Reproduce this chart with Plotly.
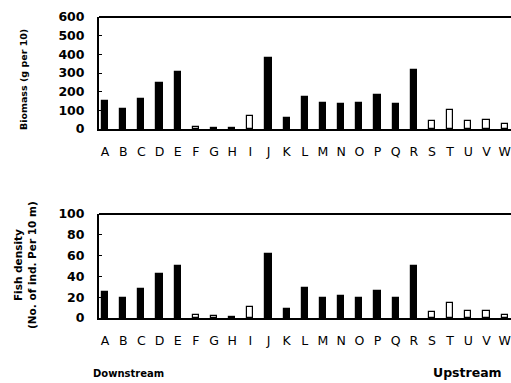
import plotly.graph_objects as go

sites = list("ABCDEFGHIJKLMNOPQRSTUVW")
biomass = [152, 106, 159, 249, 306, 10, 8, 6, 70, 380, 57, 172, 141, 133, 138, 183, 133, 315, 45, 102, 41, 48, 27]
density = [25, 19, 28, 42, 50, 3, 1.5, 1, 11, 62, 9, 29, 19, 21, 19.5, 26, 19, 50, 6, 14, 7, 7, 3]
filled = [True]*5 + [False]*4 + [True]*9 + [False]*5
biomass_ticks = [0, 100, 200, 300, 400, 500, 600]
density_ticks = [0, 20, 40, 60, 80, 100]

W, H = 511, 383
fill_colors = ["black" if f else "white" for f in filled]

fig = go.Figure()
for vals, ax in [(biomass, "y"), (density, "y2")]:
    fig.add_trace(go.Bar(
        x=sites, y=vals, yaxis=ax, xaxis="x" if ax == "y" else "x2",
        marker=dict(color=fill_colors, line=dict(color="black", width=1.2)),
        width=0.34, showlegend=False, hoverinfo="skip"))

def py(p):
    return 1 - p / H

FAM = "DejaVu Sans"
xr = [-0.33, 22.35]
xdom = [99 / W, 1.0]
font_num = dict(family=FAM, size=12.5, color="black", weight="bold")
font_let = dict(family=FAM, size=12.5, color="black")
common_x = dict(domain=xdom, range=xr, showline=True, linecolor="black", linewidth=2,
                ticks="", tickfont=font_let, ticklabelstandoff=10, showgrid=False, zeroline=False,
                automargin=False)
common_y = dict(showline=True, linecolor="black", linewidth=2, ticks="inside", ticklen=3,
                tickcolor="black", tickfont=font_num, showgrid=False, zeroline=False,
                ticklabelstandoff=10, automargin=False)

fig.update_layout(
    width=W, height=H, margin=dict(l=0, r=0, t=0, b=0),
    plot_bgcolor="white", paper_bgcolor="white", bargap=0,
    xaxis=dict(**common_x, anchor="y"),
    xaxis2=dict(**common_x, anchor="y2"),
    yaxis=dict(**common_y, domain=[py(129), py(17)], range=[0, 600], tickvals=biomass_ticks, anchor="x"),
    yaxis2=dict(**common_y, domain=[py(318), py(214)], range=[0, 100], tickvals=density_ticks, anchor="x2"),
)

# top frame lines
for yp in [17, 214]:
    fig.add_shape(type="line", xref="paper", yref="paper", x0=99 / W, x1=1.0, y0=py(yp), y1=py(yp),
                  line=dict(color="black", width=2))

lab = dict(family=FAM, color="black", weight="bold")
fig.add_annotation(text="Biomass (g per 10)", x=24 / W, y=py(80), xref="paper", yref="paper",
                   textangle=-90, showarrow=False, xanchor="center", yanchor="middle",
                   font=dict(**lab, size=9.5))
fig.add_annotation(text="Fish density<br>(No. of ind. Per 10 m)", x=25 / W, y=py(265), xref="paper", yref="paper",
                   textangle=-90, showarrow=False, xanchor="center", yanchor="middle",
                   font=dict(**lab, size=10.5))
fig.add_annotation(text="Downstream", x=128 / W, y=py(373), xref="paper", yref="paper", showarrow=False,
                   xanchor="center", yanchor="middle", font=dict(**lab, size=10))
fig.add_annotation(text="Upstream", x=467 / W, y=py(372), xref="paper", yref="paper", showarrow=False,
                   xanchor="center", yanchor="middle", font=dict(**lab, size=12.5))

fig.write_html("out.html", config={"displayModeBar": False},
               post_script="document.body.style.margin='0';document.body.style.overflow='hidden';")
